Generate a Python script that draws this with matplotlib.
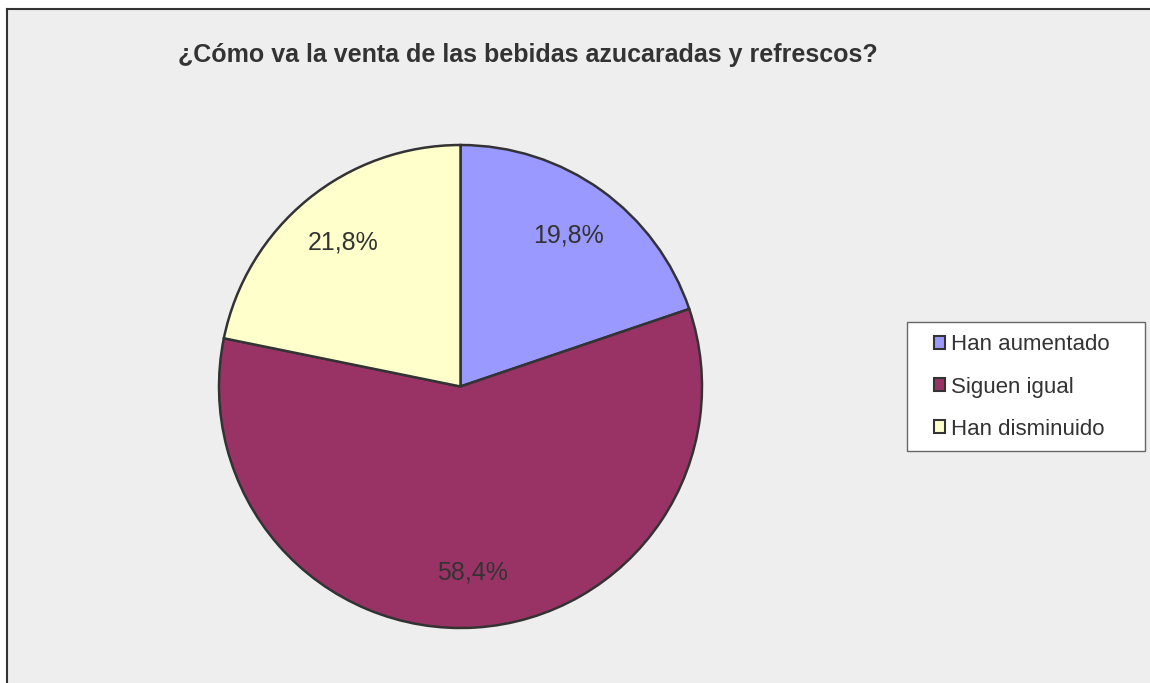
import matplotlib.pyplot as plt
from matplotlib.patches import Rectangle
from matplotlib.lines import Line2D

# Survey answers (percent)
categories = ['Han aumentado', 'Siguen igual', 'Han disminuido']
shares = [19.8, 58.4, 21.8]
colors = ['#9999FF', '#993366', '#FFFFCC']
title = '¿Cómo va la venta de las bebidas azucaradas y refrescos?'

W, H = 1150, 683
plt.rcParams['font.family'] = ['Liberation Sans', 'DejaVu Sans']
fig = plt.figure(figsize=(W / 100, H / 100), dpi=100, facecolor='white')

# chart area background with top/left border
fig.patches.append(Rectangle((7 / W, -0.01), 1, 1.01 - 9 / H, transform=fig.transFigure,
                             facecolor='#EEEEEE', edgecolor='none', lw=0, zorder=-5))
fig.lines.append(Line2D([7 / W, 1.01], [1 - 9 / H, 1 - 9 / H], transform=fig.transFigure,
                        color='#333333', lw=1.5, zorder=-4))
fig.lines.append(Line2D([7 / W, 7 / W], [-0.01, 1 - 9 / H], transform=fig.transFigure,
                        color='#333333', lw=1.5, zorder=-4))

fig.text(178 / W, 1 - 55 / H, title, fontsize=18, color='#333333',
         ha='left', va='center', fontweight='bold')

# pie
ax = fig.add_axes([219 / W, 55 / H, 483 / W, 483 / H])
ax.set_facecolor('none')
wedges, texts, autotexts = ax.pie(
    shares, colors=colors, startangle=90, counterclock=False, radius=1,
    autopct=lambda p: f'{p:.1f}%'.replace('.', ','), pctdistance=0.77,
    wedgeprops=dict(edgecolor='#333333', linewidth=1.8),
    textprops=dict(fontsize=18, color='#333333'))
ax.set_xlim(-1.0, 1.0)
ax.set_ylim(-1.0, 1.0)
ax.set_aspect('equal')
ax.axis('off')

# legend box
fig.patches.append(Rectangle((907 / W, 1 - 451 / H), 238 / W, 129 / H,
                             transform=fig.transFigure, facecolor='white',
                             edgecolor='#666666', lw=1, zorder=1))
handles = [Rectangle((0, 0), 1, 1, facecolor=c, edgecolor='#333333', lw=1.5) for c in colors]
leg = fig.legend(handles, categories, loc='center left',
                 bbox_to_anchor=(934 / W, 1 - 387 / H), fontsize=16,
                 frameon=False, handlelength=0.5, handleheight=0.5,
                 handletextpad=0.25, labelspacing=0.95, borderpad=0,
                 borderaxespad=0)
leg.set_zorder(2)
for t in leg.get_texts():
    t.set_color('#333333')

fig.savefig('out.png', dpi=100, facecolor='white')
